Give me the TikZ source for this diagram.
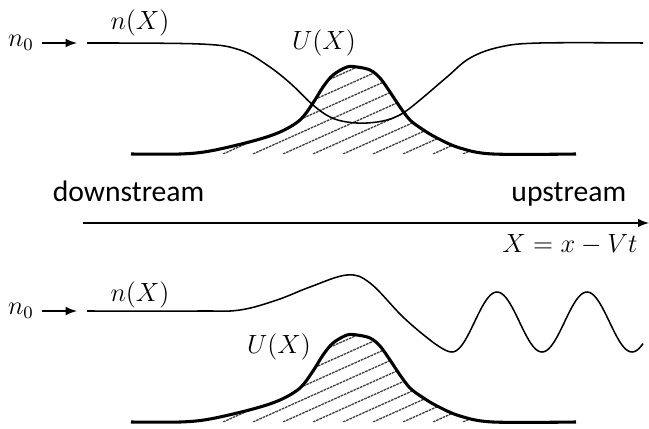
\documentclass[tikz,border=0pt]{standalone}
\usepackage{fontspec}
\newfontfamily\streamfont{Carlito}
\usetikzlibrary{arrows.meta}

\begin{document}
\begin{tikzpicture}[x=0.016cm, y=-0.016cm, >=latex,
    every node/.style={font=\fontsize{11.5}{14}\selectfont},
    potential/.style={line width=1.4pt, line join=round},
    density/.style={line width=0.7pt},
    hatchline/.style={line width=0.6pt, black!75, dash pattern=on 1.2pt off 0.4pt}]
    \useasboundingbox (0,0) rectangle (649,428);

    % barrier U(X), once in each panel
    \foreach \base in {154,422} {
        \begin{scope}[shift={(0,\base)}]
            \begin{scope}
                \clip plot[smooth, tension=0.55] coordinates {(131,0) (180,0) (210,-3) (253,-13) (280,-22) (300,-34) (313,-51) (323,-67) (333,-79) (347,-87) (357,-87) (370,-84) (380,-76) (390,-62) (400,-47) (410,-34) (422,-25) (437,-16) (460,-6) (493,0) (576,0)} -- cycle;
                \foreach \k in {-8,...,8}
                    \draw[hatchline] (253+30*\k,0) -- ++(250,-112);
            \end{scope}
            \draw[potential] plot[smooth, tension=0.55] coordinates {(131,0) (180,0) (210,-3) (253,-13) (280,-22) (300,-34) (313,-51) (323,-67) (333,-79) (347,-87) (357,-87) (370,-84) (380,-76) (390,-62) (400,-47) (410,-34) (422,-25) (437,-16) (460,-6) (493,0) (576,0)};
        \end{scope}
    }

    % top panel
    \node (n0top) at (21,43) {$n_0$};
    \coordinate (tiptop) at (77,43);
    \draw[thick, ->] (n0top) -- (tiptop);
    \draw[density] plot[smooth, tension=0.6] coordinates {(87,43) (200,44) (240,50) (267,65) (290,83) (313,105) (330,117) (347,122) (367,123) (387,120) (403,113) (420,100) (447,77) (470,58) (500,47) (540,43) (643,43)};
    \node (ntop) at (140,23) {$n(X)$};
    \node (utop) at (324,43) {$U(X)$};

    % direction labels and axis
    \node[font=\streamfont\fontsize{13.5}{16}\selectfont, anchor=base west] (down) at (45,201) {downstream};
    \node[font=\streamfont\fontsize{13.5}{16}\selectfont, anchor=base east] (up) at (634,201) {upstream};
    \coordinate (axl) at (83,223);
    \coordinate (axr) at (649,223);
    \draw[density, ->] (axl) -- (axr);
    \node[anchor=base] (xlab) at (570,252) {$X=x-Vt$};

    % bottom panel
    \node (n0bot) at (21,311) {$n_0$};
    \coordinate (tipbot) at (77,311);
    \draw[thick, ->] (n0bot) -- (tipbot);
    \draw[density] plot[smooth, tension=0.6] coordinates {(87,311) (200,311) (240,310) (277,300) (310,287) (347,275) (370,283) (403,317) (430,340) (445,350) (452,352)}
        -- plot[domain=452:643, samples=90] (\x,{322+30*cos(4*(\x-452))});
    \node (nbot) at (140,295) {$n(X)$};
    \node (ubot) at (279,347) {$U(X)$};
\end{tikzpicture}
\end{document}
